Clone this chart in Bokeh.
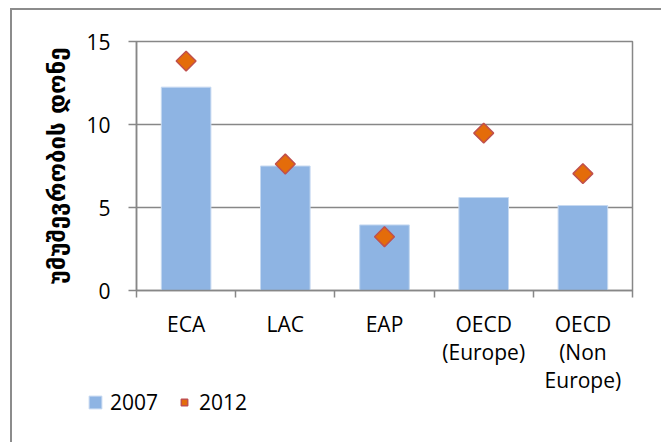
import math
from bokeh.plotting import figure
from bokeh.models import (ColumnDataSource, Range1d, LinearAxis, FixedTicker,
                          Legend, LegendItem)
from bokeh.embed import file_html
from bokeh.resources import INLINE

categories = ["ECA", "LAC", "EAP", "OECD\n(Europe)", "OECD\n(Non\nEurope)"]
values_2007 = [12.25, 7.5, 3.95, 5.6, 5.12]
values_2012 = [13.82, 7.62, 3.24, 9.48, 7.04]
y_ticks = [0, 5, 10, 15]
y_label = "უმუშევრობის დონე"
series_names = ["2007", "2012"]

FONT = "Open Sans"
GRAY = "#878787"
BAR_STYLE = dict(fill_color="#8EB4E3", line_color="#C6D9F1", line_width=1)
PT_STYLE = dict(marker="square", size=14, angle=math.pi / 4, fill_color="#E46C0A",
                line_color="#C0504D", line_width=1.5)

n = len(categories)
xpos = [i + 0.5 for i in range(n)]
src = ColumnDataSource(dict(x=xpos, cat=categories, v07=values_2007, v12=values_2012))

p = figure(x_range=Range1d(0, n), y_range=Range1d(0, 15), width=651, height=386,
           output_backend="svg", toolbar_location=None,
           min_border_left=124, min_border_right=31, min_border_top=31,
           min_border_bottom=103, x_axis_location=None,
           styles={"border-left": "2px solid #8c8c8c", "border-top": "2px solid #8c8c8c"})
p.margin = (8, 0, 0, 10)

p.vbar(x="x", top="v07", width=0.5, source=src, **BAR_STYLE)
p.scatter(x="x", y="v12", source=src, **PT_STYLE)

p.outline_line_color = GRAY
p.outline_line_width = 1.5
p.xgrid.grid_line_color = None
p.ygrid.grid_line_color = GRAY
p.ygrid.grid_line_width = 1.5
p.ygrid.ticker = FixedTicker(ticks=y_ticks)

ya = p.yaxis[0]
ya.ticker = FixedTicker(ticks=y_ticks)
ya.axis_line_color = GRAY
ya.axis_line_width = 1.5
ya.major_tick_line_color = GRAY
ya.major_tick_line_width = 1.5
ya.major_tick_out = 8
ya.major_tick_in = 0
ya.minor_tick_line_color = None
ya.major_label_text_font = FONT
ya.major_label_text_font_size = "21px"
ya.major_label_text_color = "black"
ya.major_label_standoff = 18
ya.axis_label = y_label
ya.axis_label_text_font = "DejaVu Sans"
ya.axis_label_text_font_style = "bold"
ya.axis_label_text_font_size = "24px"
ya.axis_label_text_color = "black"
ya.axis_label_standoff = 12

# boundary ticks axis
ta = LinearAxis(ticker=FixedTicker(ticks=list(range(n + 1))))
ta.axis_line_color = GRAY
ta.axis_line_width = 1.5
ta.major_tick_line_color = GRAY
ta.major_tick_line_width = 1.5
ta.major_tick_out = 7
ta.major_tick_in = 0
ta.minor_tick_line_color = None
ta.major_label_text_font_size = "0px"
ta.major_label_standoff = 0

ca = LinearAxis(ticker=FixedTicker(ticks=xpos),
                major_label_overrides={x: c for x, c in zip(xpos, categories)})
ca.axis_line_color = None
ca.major_tick_line_color = None
ca.minor_tick_line_color = None
ca.major_label_text_font = FONT
ca.major_label_text_font_size = "21px"
ca.major_label_text_line_height = 1.0
ca.major_label_text_color = "black"
ca.major_label_standoff = 6

p.add_layout(ta, "below")
p.add_layout(ca, "below")

# legend panel (separate root), overlaid on the lower part of the chart;
# its ranges keep the series glyphs out of view so only the legend shows
lg = figure(x_range=Range1d(0, n), y_range=Range1d(100, 101), width=651, height=64,
            output_backend="svg", toolbar_location=None,
            min_border_left=0, min_border_right=0, min_border_top=0, min_border_bottom=0,
            x_axis_location=None, y_axis_location=None,
            styles={"border-left": "2px solid #8c8c8c"})
lg.margin = (-16, 0, 0, 10)
lg.outline_line_color = None
lg.xgrid.grid_line_color = None
lg.ygrid.grid_line_color = None
lg.background_fill_alpha = 0
lg.border_fill_alpha = 0
r1 = lg.vbar(x="x", top="v07", width=0.5, source=src, **BAR_STYLE)
r2 = lg.scatter(x="x", y="v12", source=src, **PT_STYLE)

legend = Legend(items=[LegendItem(label=series_names[0], renderers=[r1], index=0),
                       LegendItem(label=series_names[1], renderers=[r2], index=0)],
                location=(75, 26), orientation="horizontal",
                label_text_font=FONT, label_text_font_size="21px",
                label_text_color="black",
                glyph_width=16, glyph_height=16, label_standoff=7, spacing=18,
                padding=0, margin=0, border_line_color=None,
                background_fill_alpha=0)
lg.add_layout(legend, "center")

open("out.html", "w").write(file_html([p, lg], INLINE))
